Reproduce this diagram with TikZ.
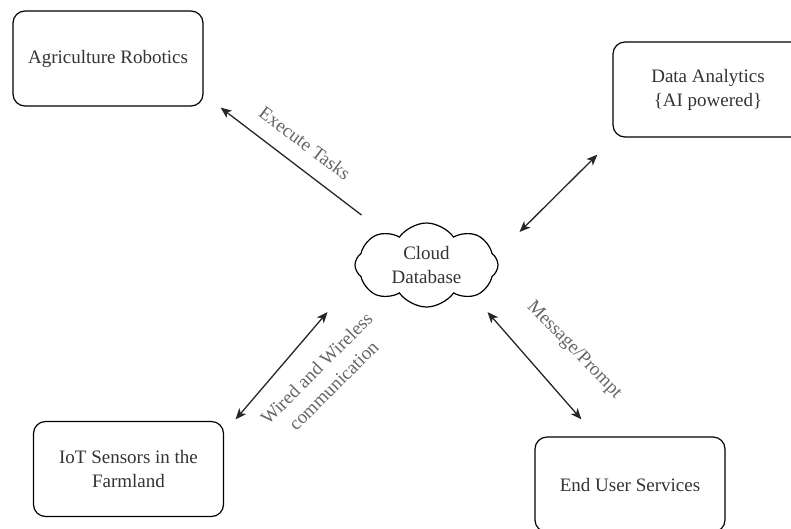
\documentclass[tikz,border=0pt]{standalone}
\usepackage{fontspec}
\setmainfont{Liberation Serif}
\newfontfamily\diagfont{Liberation Serif}
\usetikzlibrary{shapes.symbols,arrows.meta}
\definecolor{boxtext}{HTML}{333333}
\definecolor{lbltext}{HTML}{666666}

\begin{document}
\begin{tikzpicture}[x=1pt, y=-1pt,
    font=\diagfont\fontsize{19}{24}\selectfont,
    block/.style={draw, rounded corners=12pt, line width=1.2pt, minimum width=190pt,
        minimum height=95pt, align=center, text=boxtext},
    link/.style={line width=1.3pt, draw=black!85, >={Stealth[length=11pt, width=9pt, inset=3pt]}},
    lbl/.style={text=lbltext, align=center}]
    \useasboundingbox (0,0) rectangle (791,528);
    % Boxes round the cloud
    \node[block] (robot) at (108,58.5) {Agriculture Robotics};
    \node[block] (analytics) at (708,89.5) {Data Analytics\\\{AI powered\}};
    \node[block] (iot) at (128.5,469) {IoT Sensors in the\\Farmland};
    \node[block] (users) at (630,484.5) {End User Services};
    % Cloud in the middle
    \node[cloud, draw, line width=1.2pt, cloud puffs=8, cloud puff arc=110, aspect=1.7,
        inner sep=0pt, minimum width=143pt, minimum height=84pt, align=center,
        text=boxtext] (cloud) at (426.5,265) {Cloud\\Database};
    % Connectors
    \draw[link, ->] ([shift={(-65,-50)}]cloud.center) -- ([shift={(17,1)}]robot.south east);
    \draw[link, <->] ([shift={(93,-33)}]cloud.center) -- ([shift={(-15,17)}]analytics.south west);
    \draw[link, <->] ([shift={(-99,47)}]cloud.center) -- ([shift={(11.5,-1.5)}]iot.north east);
    \draw[link, <->] ([shift={(61,47)}]cloud.center) -- ([shift={(47,-17)}]users.north west);
    % Labels
    \node[lbl, rotate=-37] (exec) at (305,143) {Execute Tasks};
    \node[lbl, rotate=45] (wired) at (325,377) {Wired and Wireless\\communication};
    \node[lbl, rotate=-46] (msg) at (574,350) {Message/Prompt};
\end{tikzpicture}
\end{document}
